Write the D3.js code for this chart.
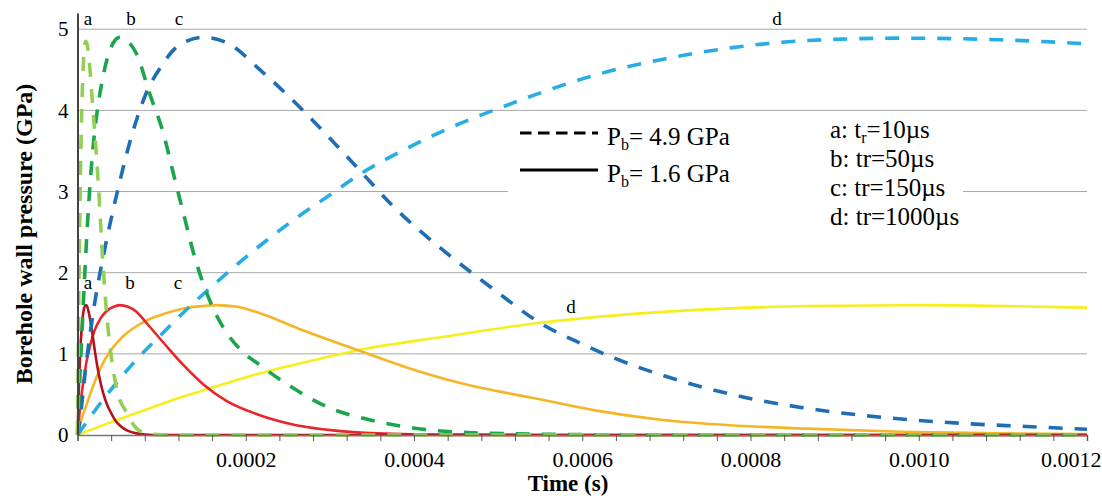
<!DOCTYPE html>
<html>
<head>
<meta charset="utf-8">
<script src="https://cdn.jsdelivr.net/npm/d3@7"></script>
<style>
  body { margin: 0; background: #fff; }
  text { font-family: "Liberation Serif", "Times New Roman", serif; fill: #000; }
</style>
</head>
<body>
<div id="chart"></div>
<script>
// Chart size
const width = 1102, height = 498;

// Values: [time in µs, pressure in GPa]
// Pb = 4.9 GPa (dashed)
const dashA = [[0,0],[1,1.15],[2,2.1],[3,2.9],[4,3.5],[5,3.98],[6,4.33],[8,4.75],[10,4.85],[12,4.78],[14,4.6],[17,4.2],[20,3.8],[25,3.05],[30,2.15],[35,1.45],[40,0.98],[47,0.55],[58,0.28],[74,0.05],[90,0.01],[120,0],[1200,0]];
const dashB = [[0,0],[3,0.75],[5,1.2],[8,1.85],[11,2.45],[15,3.1],[20,3.7],[25,4.1],[30,4.4],[40,4.78],[50,4.9],[60,4.85],[70,4.7],[86,4.2],[102,3.72],[114,3.22],[126,2.73],[138,2.24],[150,1.85],[165,1.48],[180,1.22],[197,1.02],[217,0.86],[253,0.6],[296,0.35],[348,0.185],[403,0.08],[463,0.03],[550,0.01],[700,0],[1200,0]];
const dashC = [[0,0],[3,0.2],[10,0.85],[20,1.6],[31,2.22],[47,2.98],[62,3.6],[82,4.22],[100,4.55],[118,4.78],[150,4.9],[180,4.82],[217,4.5],[268,4.0],[332,3.3],[376,2.81],[439,2.24],[494,1.8],[550,1.38],[600,1.12],[635,0.96],[700,0.72],[795,0.46],[860,0.34],[926,0.25],[993,0.185],[1057,0.14],[1128,0.105],[1200,0.07]];
const dashD = [[0,0],[15,0.22],[30,0.43],[47,0.65],[72,0.95],[96,1.2],[130,1.55],[162,1.85],[185,2.06],[225,2.4],[257,2.65],[296,2.93],[340,3.24],[395,3.55],[455,3.84],[502,4.03],[546,4.2],[617,4.44],[696,4.63],[776,4.77],[867,4.86],[978,4.89],[1097,4.87],[1200,4.82]];
// Pb = 1.6 GPa (solid)
const solidA = [[0,0],[2,0.7],[4,1.17],[6,1.43],[8,1.57],[10,1.6],[12,1.57],[14,1.48],[17,1.3],[20,1.08],[24,0.82],[28,0.62],[31,0.5],[35,0.38],[39,0.29],[45,0.18],[51,0.11],[60,0.05],[70,0.02],[90,0],[1200,0]];
const solidB = [[0,0],[3,0.33],[7,0.66],[11,0.92],[15,1.1],[20,1.28],[27,1.43],[35,1.53],[43,1.58],[50,1.6],[60,1.58],[70,1.52],[82,1.38],[102,1.14],[126,0.86],[150,0.62],[177,0.42],[215,0.25],[256,0.13],[316,0.045],[374,0.015],[450,0.005],[550,0],[1200,0]];
const solidC = [[0,0],[5,0.2],[11,0.38],[17,0.56],[23,0.72],[30,0.88],[38,1.02],[48,1.15],[58,1.25],[70,1.34],[86,1.43],[105,1.5],[126,1.56],[150,1.59],[165,1.6],[190,1.58],[217,1.5],[268,1.29],[332,1.05],[395,0.82],[455,0.64],[514,0.51],[540,0.46],[617,0.3],[696,0.185],[776,0.12],[867,0.078],[978,0.04],[1097,0.02],[1200,0.012]];
const solidD = [[0,0],[35,0.14],[70,0.27],[110,0.42],[150,0.55],[217,0.76],[280,0.92],[336,1.05],[435,1.21],[540,1.37],[657,1.49],[776,1.56],[871,1.59],[1000,1.6],[1100,1.59],[1200,1.57]];

const yTickValues = [0, 1, 2, 3, 4, 5];
const gridValues = [1, 2, 3, 4, 5];

// Draw order: solids first, dashed on top
const series = [
  { data: solidD, color: "#f7ee1e", dashed: false },
  { data: solidC, color: "#f5b526", dashed: false },
  { data: solidB, color: "#e8262a", dashed: false },
  { data: solidA, color: "#b5121b", dashed: false },
  { data: dashD, color: "#26aee4", dashed: true },
  { data: dashC, color: "#1f6eb4", dashed: true },
  { data: dashB, color: "#1ca64c", dashed: true },
  { data: dashA, color: "#94cf55", dashed: true }
];

const svg = d3.select("#chart").append("svg")
    .attr("width", width).attr("height", height);
svg.append("rect").attr("width", width).attr("height", height).attr("fill", "#fff");

// Scales
const x = d3.scaleLinear().domain([0, 0.0012]).range([77.5, 1087]);
const y = d3.scaleLinear().domain([0, 5.2]).range([435, 13]);

// Gridlines
svg.append("g").selectAll("line").data(gridValues).join("line")
    .attr("x1", x(0)).attr("x2", x(0.0012))
    .attr("y1", d => y(d)).attr("y2", d => y(d))
    .attr("stroke", "#a9a9a9").attr("stroke-width", 1);

// White box behind legend and notes
svg.append("rect").attr("x", 508).attr("y", 116).attr("width", 455).attr("height", 146).attr("fill", "#fff");

// Curves
const line = d3.line()
    .x(d => x(d[0] * 1e-6))
    .y(d => y(d[1]))
    .curve(d3.curveMonotoneX);

series.forEach(s => {
    svg.append("path")
        .datum(s.data)
        .attr("fill", "none")
        .attr("stroke", s.color)
        .attr("stroke-width", s.dashed ? 3.6 : 2.6)
        .attr("stroke-dasharray", s.dashed ? "14,12" : null)
        .attr("d", line);
});

// X axis
const xTicks = d3.range(0, 31).map(i => i * 0.00004);
const xAxis = svg.append("g")
    .attr("transform", `translate(0,${y(0)})`)
    .call(d3.axisBottom(x).tickValues(xTicks).tickSize(6).tickPadding(10)
        .tickFormat((d, i) => (i % 5 === 0 && i > 0) ? d3.format(".4f")(d) : ""));
xAxis.selectAll("text").style("font-size", "22px").style("font-family", "'Liberation Serif', serif");
// last label sits against the right edge
xAxis.selectAll("text").filter((d, i) => i === xTicks.length - 1)
    .attr("text-anchor", "end").attr("x", 14);
xAxis.selectAll("line").attr("stroke", "#555");
xAxis.select(".domain").attr("stroke", "#777").attr("stroke-width", 1.5);

// Y axis
const yAxis = svg.append("g")
    .attr("transform", `translate(${x(0)},0)`)
    .call(d3.axisLeft(y).tickValues(yTickValues).tickSize(0).tickPadding(9).tickFormat(d3.format("d")));
yAxis.selectAll("text").style("font-size", "21px").style("font-family", "'Liberation Serif', serif");
yAxis.select(".domain").attr("stroke", "#444").attr("stroke-width", 2);

// Axis titles
svg.append("text")
    .attr("transform", "translate(32,234) rotate(-90)")
    .attr("text-anchor", "middle")
    .style("font-size", "24px").style("font-weight", "bold")
    .text("Borehole wall pressure (GPa)");
svg.append("text")
    .attr("x", 568).attr("y", 491)
    .attr("text-anchor", "middle")
    .style("font-size", "23px").style("font-weight", "bold")
    .text("Time (s)");

// Curve letters
const topLabels = [["a", 88, 25], ["b", 131, 25], ["c", 179, 25], ["d", 777, 25]];
const lowLabels = [["a", 88, 289], ["b", 130, 289], ["c", 178, 289], ["d", 571, 313]];
topLabels.concat(lowLabels).forEach(([t, lx, ly]) => {
    svg.append("text").attr("x", lx).attr("y", ly).attr("text-anchor", "middle")
        .style("font-size", "19px").text(t);
});

// Legend
svg.append("line").attr("x1", 520).attr("x2", 598).attr("y1", 133).attr("y2", 133)
    .attr("stroke", "#000").attr("stroke-width", 3).attr("stroke-dasharray", "11.5,6.5");
svg.append("line").attr("x1", 520).attr("x2", 598).attr("y1", 170).attr("y2", 170)
    .attr("stroke", "#000").attr("stroke-width", 3);

function subText(tx, ty, main, sub, rest) {
    const t = svg.append("text").attr("x", tx).attr("y", ty).style("font-size", "25px");
    t.append("tspan").text(main);
    t.append("tspan").attr("dy", 5).style("font-size", "16px").text(sub);
    t.append("tspan").attr("dy", -5).text(rest);
}
subText(607, 145, "P", "b", "= 4.9 GPa");
subText(607, 182, "P", "b", "= 1.6 GPa");

// Rise time notes
subText(830, 138, "a: t", "r", "=10µs");
const notes = [["b: tr=50µs", 167], ["c: tr=150µs", 196], ["d: tr=1000µs", 225]];
notes.forEach(([t, ny]) => {
    svg.append("text").attr("x", 830).attr("y", ny).style("font-size", "25px").text(t);
});
</script>
</body>
</html>
